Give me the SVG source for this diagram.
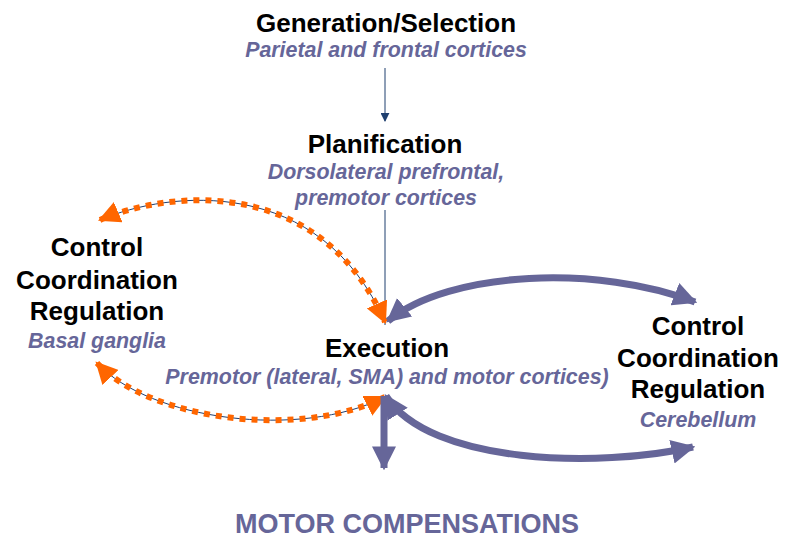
<svg xmlns="http://www.w3.org/2000/svg" width="787" height="552" viewBox="0 0 787 552">
<style>
.t{font-family:"Liberation Sans",Arial,sans-serif;font-weight:bold;font-size:26px;fill:#000;text-anchor:middle}
.s{font-family:"Liberation Sans",Arial,sans-serif;font-weight:bold;font-style:italic;font-size:21.4px;fill:#666699;text-anchor:middle}
.thin{fill:none;stroke:#1f3f6f;stroke-width:1}
.org{fill:none;stroke:#ff6600;stroke-width:6;stroke-dasharray:6 6}
.pur{fill:none;stroke:#666699;stroke-width:7}
</style>
<defs>
<marker id="ao" viewBox="0 0 10 10" refX="9" refY="5" markerWidth="22" markerHeight="22" markerUnits="userSpaceOnUse" orient="auto-start-reverse"><path d="M0,0 L10,5 L0,10 z" fill="#ff6600"/></marker>
<marker id="ap" viewBox="0 0 10 10" refX="9" refY="5" markerWidth="24" markerHeight="24" markerUnits="userSpaceOnUse" orient="auto-start-reverse"><path d="M0,0 L10,5 L0,10 z" fill="#666699"/></marker>
<marker id="an" viewBox="0 0 10 10" refX="9" refY="5" markerWidth="9" markerHeight="9" markerUnits="userSpaceOnUse" orient="auto"><path d="M0,0 L10,5 L0,10 z" fill="#1f3f6f"/></marker>
</defs>
<g id="connectors">
<line class="thin" x1="385" y1="68" x2="385" y2="121" marker-end="url(#an)"/>
<line class="thin" x1="385" y1="210" x2="385" y2="325"/>
<path class="thin" d="M100 220 C170 190,320 175,385 322"/>
<path class="org" d="M100 220 C170 190,320 175,385 322" marker-start="url(#ao)" marker-end="url(#ao)"/>
<path class="thin" d="M97 363 C150 420,300 440,385 397"/>
<path class="org" d="M97 363 C150 420,300 440,385 397" marker-start="url(#ao)" marker-end="url(#ao)"/>
<path class="pur" d="M388 321 C450 270,600 265,695 302" marker-start="url(#ap)" marker-end="url(#ap)"/>
<path class="pur" d="M386 396 C430 465,600 468,693 447" marker-start="url(#ap)" marker-end="url(#ap)"/>
<line class="pur" x1="384" y1="396" x2="384" y2="468" marker-end="url(#ap)"/>
</g>
<g id="generation">
<text class="t" x="386" y="32">Generation/Selection</text>
<text class="s" x="386" y="57">Parietal and frontal cortices</text>
</g>
<g id="planification">
<text class="t" x="385" y="153">Planification</text>
<text class="s" x="386" y="179">Dorsolateral prefrontal,</text>
<text class="s" x="386" y="205">premotor cortices</text>
</g>
<g id="basal">
<text class="t" x="97" y="256">Control</text>
<text class="t" x="97" y="289">Coordination</text>
<text class="t" x="97" y="320">Regulation</text>
<text class="s" x="97" y="348">Basal ganglia</text>
</g>
<g id="execution">
<text class="t" x="387" y="357">Execution</text>
<text class="s" x="387" y="384">Premotor (lateral, SMA) and motor cortices)</text>
</g>
<g id="cerebellum">
<text class="t" x="698" y="335">Control</text>
<text class="t" x="698" y="367">Coordination</text>
<text class="t" x="698" y="398">Regulation</text>
<text class="s" x="698" y="427">Cerebellum</text>
</g>
<g id="motor">
<text class="t" x="407" y="533" style="fill:#666699;font-size:27px">MOTOR COMPENSATIONS</text>
</g>
</svg>
